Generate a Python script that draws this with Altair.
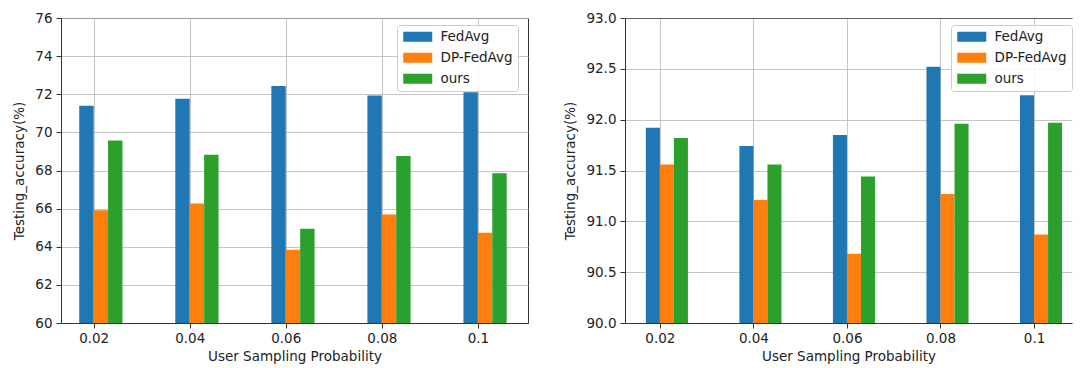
import altair as alt
import pandas as pd

probs = ["0.02", "0.04", "0.06", "0.08", "0.1"]
series = ["FedAvg", "DP-FedAvg", "ours"]
colors = ["#1f77b4", "#ff7f0e", "#2ca02c"]

left_fedavg = [71.40, 71.77, 72.43, 71.94, 72.10]
left_dp = [65.92, 66.27, 63.84, 65.69, 64.73]
left_ours = [69.58, 68.83, 64.94, 68.76, 67.86]

right_fedavg = [91.92, 91.74, 91.85, 92.52, 92.24]
right_dp = [91.56, 91.21, 90.68, 91.27, 90.87]
right_ours = [91.82, 91.56, 91.44, 91.96, 91.97]

left_ticks = [60, 62, 64, 66, 68, 70, 72, 74, 76]
right_ticks = [90.0, 90.5, 91.0, 91.5, 92.0, 92.5, 93.0]

BAR_W = 0.15
FONT = "DejaVu Sans"
TEXT = "#222222"
GRID = "#b8b8b8"
FRAME = "#333333"
FS = 13.5


def table(values_by_series):
    rows = []
    for k, (name, vals) in enumerate(zip(series, values_by_series)):
        for i, v in enumerate(vals):
            rows.append({"series": name, "k": k - 1, "i": i, "acc": v})
    return pd.DataFrame(rows)


label_expr = "[" + ",".join(f"'{p}'" for p in probs) + "][datum.value]"
legend_path = "M-2.23,-0.77L2.23,-0.77L2.23,0.77L-2.23,0.77Z"


def panel(df, ticks, yfmt, xdomain, width, legend_x, framed, top_value):
    grid_color = GRID
    if not framed:
        grid_color = {"condition": {"test": f"datum.value >= {top_value}", "value": FRAME},
                      "value": GRID}
    x_axis = alt.Axis(values=list(range(len(probs))), labelExpr=label_expr,
                      title="User Sampling Probability", grid=True, gridColor=GRID,
                      gridWidth=0.8, tickSize=5, tickColor=FRAME, domainColor=FRAME,
                      labelPadding=3, titlePadding=5)
    y_axis = alt.Axis(values=ticks, format=yfmt, title="Testing_accuracy(%)",
                      grid=True, gridColor=grid_color, gridWidth=0.8, tickSize=5,
                      tickColor=FRAME, domainColor=FRAME, labelPadding=4,
                      titlePadding=8)
    legend = alt.Legend(title=None, orient="none", legendX=legend_x, legendY=7,
                        direction="vertical", symbolType=legend_path, symbolSize=169,
                        symbolStrokeWidth=0, symbolOpacity=1, labelFontSize=FS,
                        labelFont=FONT, labelColor=TEXT, padding=5, rowPadding=6,
                        symbolOffset=9, labelOffset=16,
                        fillColor="rgba(255,255,255,0.85)", strokeColor="#cccccc",
                        cornerRadius=3)
    chart = alt.Chart(df).transform_calculate(
        x0=f"datum.i + datum.k * {BAR_W}",
        x1=f"datum.i + (datum.k + 1) * {BAR_W}",
    ).mark_rect().encode(
        x=alt.X("x0:Q", scale=alt.Scale(domain=xdomain, nice=False, zero=False), axis=x_axis),
        x2="x1:Q",
        y=alt.Y("acc:Q", scale=alt.Scale(domain=[ticks[0], ticks[-1]], nice=False, zero=False),
                axis=y_axis),
        y2=alt.datum(ticks[0]),
        color=alt.Color("series:N", scale=alt.Scale(domain=series, range=colors),
                        sort=series, legend=legend),
    ).properties(
        width=width, height=305,
        view=alt.ViewBackground(stroke=FRAME if framed else "transparent", strokeWidth=1),
    )
    return chart


left = panel(table([left_fedavg, left_dp, left_ours]), left_ticks, "d",
             [-0.34, 4.522], 467, 336, True, 76)
right = panel(table([right_fedavg, right_dp, right_ours]), right_ticks, ".1f",
              [-0.373, 4.406], 447, 326, False, 93)

chart = alt.hconcat(left, right, spacing=34).resolve_legend(
    color="independent"
).resolve_scale(color="independent").properties(
    padding={"left": 4, "top": 2, "right": 0, "bottom": 0},
    background="white",
).configure_axis(
    labelFont=FONT, titleFont=FONT, labelFontSize=FS, titleFontSize=FS,
    labelColor=TEXT, titleColor=TEXT, titleFontWeight="normal",
).configure_view(stroke=FRAME)

chart.save("out.html", embed_options={"renderer": "svg", "actions": False})
